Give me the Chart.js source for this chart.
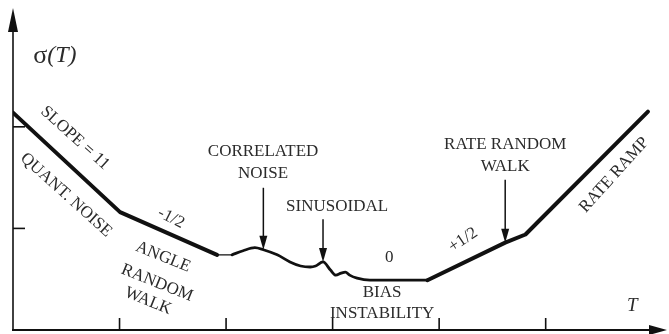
<!DOCTYPE html>
<html>
<head>
<meta charset="utf-8">
<script src="https://cdn.jsdelivr.net/npm/chart.js@4"></script>
<style>
  html, body { margin: 0; padding: 0; background: #fff; }
  #wrap { width: 669px; height: 334px; }
</style>
</head>
<body>
<div id="wrap"><canvas id="c" width="669" height="334"></canvas></div>
<script>
// Allan deviation curve, sigma(T) against averaging time T (log-log, arbitrary units)
const tau   = [0, 1.005, 1.915, 2.056, 2.16, 2.27, 2.35, 2.48, 2.60, 2.70, 2.79, 2.84, 2.91, 2.98, 3.03, 3.08, 3.12, 3.16, 3.23, 3.35, 3.89, 4.62, 4.81, 5.96];
const sigma = [2.14, 1.16, 0.74, 0.74, 0.78, 0.81, 0.79, 0.74, 0.67, 0.63, 0.62, 0.63, 0.67, 0.59, 0.54, 0.56, 0.57, 0.54, 0.51, 0.49, 0.49, 0.86, 0.94, 2.15];

// axis tick positions
const xTicks = [1, 2, 3, 4, 5];
const yTicks = [1, 2];

// curve points picked out by pointer arrows, and the height each arrow starts from
const arrowIndex = [6, 12, 21];
const arrowTop   = [1.40, 1.09, 1.48];

const pts = tau.map((t, i) => ({ x: t, y: sigma[i] }));
const part = (a, b) => pts.slice(a, b + 1);

const INK = '#111';
const TXT = '#2b2b2b';
const SERIF = '"Liberation Serif", "DejaVu Serif", serif';

// annotation text, placed in data units
const notes = [
  { t: 'SLOPE = 11',   x: 0.582, y: 1.890, r: 42 },
  { t: 'QUANT. NOISE', x: 0.498, y: 1.329, r: 42 },
  { t: '-1/2',         x: 1.484, y: 1.102, r: 27 },
  { t: 'ANGLE',        x: 1.408, y: 0.719, r: 22 },
  { t: 'RANDOM',       x: 1.352, y: 0.463, r: 22 },
  { t: 'WALK',         x: 1.268, y: 0.285, r: 22 },
  { t: 'CORRELATED',   x: 2.347, y: 1.752, r: 0 },
  { t: 'NOISE',        x: 2.347, y: 1.545, r: 0 },
  { t: 'SINUSOIDAL',   x: 3.042, y: 1.211, r: 0 },
  { t: '0',            x: 3.531, y: 0.709, r: 0 },
  { t: 'BIAS',         x: 3.465, y: 0.364, r: 0 },
  { t: 'INSTABILITY',  x: 3.465, y: 0.167, r: 0 },
  { t: 'RATE RANDOM',  x: 4.620, y: 1.821, r: 0 },
  { t: 'WALK',         x: 4.620, y: 1.614, r: 0 },
  { t: '+1/2',         x: 4.225, y: 0.886, r: -34 },
  { t: 'RATE RAMP',    x: 5.643, y: 1.526, r: -48 }
];

const decor = {
  id: 'decor',
  afterDatasetsDraw(chart) {
    const { ctx, chartArea: ca, scales: { x, y } } = chart;
    const x0 = x.getPixelForValue(0);
    const y0 = y.getPixelForValue(0);
    ctx.save();
    ctx.strokeStyle = INK;
    ctx.fillStyle = INK;

    // axes
    ctx.lineWidth = 1.6;
    ctx.beginPath();
    ctx.moveTo(x0, y0 + 1);
    ctx.lineTo(x0, ca.top + 12);
    ctx.stroke();
    ctx.lineWidth = 2;
    ctx.beginPath();
    ctx.moveTo(x0 - 1, y0);
    ctx.lineTo(ca.right - 12, y0);
    ctx.stroke();

    // axis arrowheads
    ctx.beginPath();
    ctx.moveTo(x0, ca.top - 2);
    ctx.lineTo(x0 - 5, ca.top + 22);
    ctx.lineTo(x0 + 5, ca.top + 22);
    ctx.closePath();
    ctx.fill();
    ctx.beginPath();
    ctx.moveTo(ca.right + 2, y0);
    ctx.lineTo(ca.right - 16, y0 - 5);
    ctx.lineTo(ca.right - 16, y0 + 5);
    ctx.closePath();
    ctx.fill();

    // inward tick marks
    ctx.lineWidth = 1.6;
    xTicks.forEach(v => {
      const px = x.getPixelForValue(v);
      ctx.beginPath();
      ctx.moveTo(px, y0);
      ctx.lineTo(px, y0 - 12);
      ctx.stroke();
    });
    yTicks.forEach(v => {
      const py = y.getPixelForValue(v);
      ctx.beginPath();
      ctx.moveTo(x0, py);
      ctx.lineTo(x0 + 12, py);
      ctx.stroke();
    });

    // pointer arrows onto the curve
    arrowIndex.forEach((idx, k) => {
      const px = x.getPixelForValue(tau[idx]);
      const tip = y.getPixelForValue(sigma[idx]);
      const top = y.getPixelForValue(arrowTop[k]);
      ctx.lineWidth = 1.5;
      ctx.beginPath();
      ctx.moveTo(px, top);
      ctx.lineTo(px, tip - 10);
      ctx.stroke();
      ctx.beginPath();
      ctx.moveTo(px, tip);
      ctx.lineTo(px - 4, tip - 14);
      ctx.lineTo(px + 4, tip - 14);
      ctx.closePath();
      ctx.fill();
    });

    // labels
    ctx.fillStyle = TXT;
    ctx.textAlign = 'center';
    ctx.textBaseline = 'middle';
    ctx.font = '17px ' + SERIF;
    notes.forEach(n => {
      ctx.save();
      ctx.translate(x.getPixelForValue(n.x), y.getPixelForValue(n.y));
      ctx.rotate(n.r * Math.PI / 180);
      ctx.fillText(n.t, 0, 0);
      ctx.restore();
    });

    // axis titles
    ctx.textAlign = 'left';
    ctx.font = '26px ' + SERIF;
    const sx = x.getPixelForValue(0.19);
    const sy = y.getPixelForValue(2.70);
    ctx.fillText('\u03C3', sx, sy);
    const w = ctx.measureText('\u03C3').width;
    ctx.font = 'italic 24px ' + SERIF;
    ctx.fillText('(T)', sx + w, sy);
    ctx.textAlign = 'center';
    ctx.font = 'italic 19px ' + SERIF;
    ctx.fillText('T', x.getPixelForValue(5.812), y.getPixelForValue(0.236));
    ctx.restore();
  }
};

const base = { pointRadius: 0, borderColor: INK, fill: false, borderJoinStyle: 'round', borderCapStyle: 'round' };

new Chart(document.getElementById('c'), {
  type: 'line',
  data: {
    datasets: [
      Object.assign({}, base, {
        data: part(0, 3), tension: 0,
        segment: { borderWidth: c => (c.p0DataIndex < 2 ? 4 : 1.2) }
      }),
      Object.assign({}, base, {
        data: part(3, 20), borderWidth: 2.8, cubicInterpolationMode: 'monotone'
      }),
      Object.assign({}, base, {
        data: part(20, 23), borderWidth: 4, tension: 0
      })
    ]
  },
  options: {
    responsive: false,
    devicePixelRatio: 1,
    animation: false,
    layout: { padding: { left: 13, right: 4, top: 10, bottom: 4 } },
    plugins: { legend: { display: false }, tooltip: { enabled: false } },
    scales: {
      x: { type: 'linear', min: 0, max: 6.12, display: false },
      y: { type: 'linear', min: 0, max: 3.15, display: false }
    }
  },
  plugins: [decor]
});
</script>
</body>
</html>
